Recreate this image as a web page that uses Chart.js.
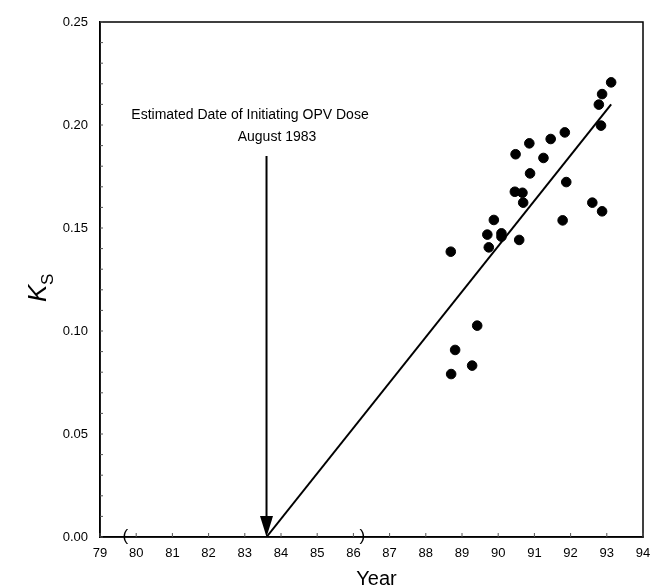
<!DOCTYPE html>
<html>
<head>
<meta charset="utf-8">
<script src="https://cdn.jsdelivr.net/npm/chart.js@4/dist/chart.umd.min.js"></script>
<style>
  html, body { margin: 0; padding: 0; background: #fff; }
  #wrap { width: 650px; height: 588px; }
</style>
</head>
<body>
<div id="wrap"><canvas id="chartCanvas" width="650" height="588"></canvas></div>
<script>
// observed Ks values by year
let years = [88.69, 89.42, 88.81, 89.28, 88.70, 89.88, 89.70, 90.09, 90.09, 89.74,
  90.58, 91.78, 92.60, 92.87, 90.69, 93.12, 92.87, 92.78, 92.84, 91.84,
  91.45, 90.86, 90.48, 91.25, 90.88, 91.88, 90.46, 90.67];
let ksValues = [0.1385, 0.1026, 0.0908, 0.0832, 0.0791, 0.1539, 0.1468, 0.1474, 0.1458, 0.1406,
  0.1442, 0.1537, 0.1623, 0.1581, 0.1623, 0.2207, 0.2150, 0.2099, 0.1997, 0.1964,
  0.1932, 0.1911, 0.1858, 0.1840, 0.1765, 0.1723, 0.1676, 0.1671];

// fitted line, starting at the estimated date
let fitYears = [83.6, 93.12];
let fitValues = [0, 0.210];

let startDate = 83.6;
let arrowTop = 0.185;
let bracketYears = [79.7, 86.25];

let xTicks = [79, 94, 1];
let yTicks = [0, 0.25, 0.05];

let font = '"Liberation Sans", Arial, sans-serif';

let extras = {
  id: 'extras',
  afterDraw(chart) {
    let c = chart.ctx;
    let a = chart.chartArea;
    let x = chart.scales.x;
    let y = chart.scales.y;
    c.save();

    // box around plot
    c.strokeStyle = '#000';
    c.lineWidth = 1.5;
    c.strokeRect(a.left, a.top, a.right - a.left, a.bottom - a.top);

    // small inward ticks
    c.lineWidth = 1;
    c.strokeStyle = '#555';
    for (let v = xTicks[0]; v <= xTicks[1]; v += xTicks[2]) {
      let px = x.getPixelForValue(v);
      c.beginPath(); c.moveTo(px, a.bottom); c.lineTo(px, a.bottom - 4); c.stroke();
    }
    for (let v = 0; v <= 0.2501; v += 0.01) {
      let py = y.getPixelForValue(v);
      c.beginPath(); c.moveTo(a.left, py); c.lineTo(a.left + 3, py); c.stroke();
    }

    // arrow
    let ax = x.getPixelForValue(startDate);
    let ay0 = y.getPixelForValue(arrowTop);
    let ay1 = y.getPixelForValue(0);
    c.strokeStyle = '#000';
    c.fillStyle = '#000';
    c.lineWidth = 2;
    c.beginPath(); c.moveTo(ax, ay0); c.lineTo(ax, ay1 - 18); c.stroke();
    c.beginPath();
    c.moveTo(ax - 6.5, ay1 - 21);
    c.lineTo(ax + 6.5, ay1 - 21);
    c.lineTo(ax, ay1);
    c.closePath();
    c.fill();

    // annotation text
    c.font = '14px ' + font;
    c.textAlign = 'center';
    c.textBaseline = 'alphabetic';
    c.fillText('Estimated Date of Initiating OPV Dose', 250, 119);
    c.fillText('August 1983', 277, 141);

    // brackets on the axis
    c.font = '17px ' + font;
    c.textBaseline = 'middle';
    c.fillText('(', x.getPixelForValue(bracketYears[0]), a.bottom - 1);
    c.fillText(')', x.getPixelForValue(bracketYears[1]), a.bottom - 1);

    // axis titles
    c.font = '20px ' + font;
    c.textBaseline = 'alphabetic';
    c.fillText('Year', (a.left + a.right) / 2 + 5, 585);

    c.translate(46, 290);
    c.rotate(-Math.PI / 2);
    c.font = 'italic 26px ' + font;
    c.textAlign = 'left';
    c.fillText('K', -12, 0);
    c.font = '17px ' + font;
    c.fillText('S', 5, 7);
    c.restore();
  }
};

let ctx = document.getElementById('chartCanvas').getContext('2d');
let chartInstance = new Chart(ctx, {
  type: 'scatter',
  data: {
    datasets: [{
      label: 'Ks',
      data: years.map((v, i) => ({ x: v, y: ksValues[i] })),
      backgroundColor: '#000',
      borderColor: '#000',
      pointRadius: 4.8,
      pointHoverRadius: 4.8
    },
    {
      type: 'line',
      label: 'fit',
      data: fitYears.map((v, i) => ({ x: v, y: fitValues[i] })),
      borderColor: '#000',
      borderWidth: 2,
      pointRadius: 0,
      fill: false
    }]
  },
  options: {
    responsive: false,
    animation: false,
    layout: { padding: { left: 0, right: 7, top: 22, bottom: 0 } },
    plugins: { legend: { display: false }, tooltip: { enabled: false } },
    scales: {
      x: {
        type: 'linear',
        min: xTicks[0],
        max: xTicks[1],
        afterFit(scale) {
          scale.height = 51;
          scale.paddingLeft = 0;
          scale.paddingRight = 0;
        },
        grid: { display: false, drawTicks: false },
        border: { display: true, color: '#000', width: 1.5 },
        ticks: {
          stepSize: xTicks[2],
          color: '#000',
          padding: 9,
          maxRotation: 0,
          autoSkip: false,
          font: { family: font, size: 13 }
        }
      },
      y: {
        min: yTicks[0],
        max: yTicks[1],
        afterFit(scale) { scale.width = 100; },
        grid: { display: false, drawTicks: false },
        border: { display: true, color: '#000', width: 1.5 },
        ticks: {
          stepSize: yTicks[2],
          color: '#000',
          padding: 12,
          font: { family: font, size: 13 },
          callback: v => v.toFixed(2)
        }
      }
    }
  },
  plugins: [extras]
});
</script>
</body>
</html>
